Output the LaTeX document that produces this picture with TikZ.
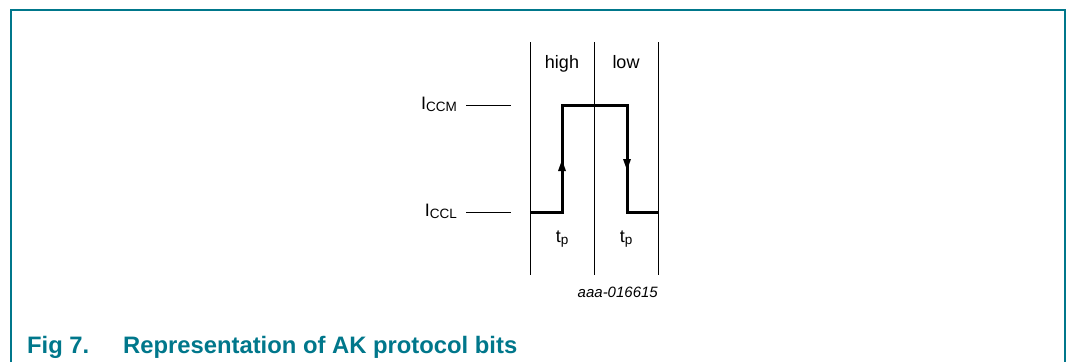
\documentclass[tikz,border=0pt]{standalone}
\usepackage{fontspec}
\setmainfont{Liberation Sans}
\definecolor{nxp}{HTML}{00778B}
\newcommand\lowsub[1]{\raisebox{-2pt}{\fontsize{13.5}{15}\selectfont #1}}
\begin{document}
\begin{tikzpicture}[x=1pt,y=-1pt,
  thin line/.style={line width=1pt,black},
  wave/.style={line width=3pt,black,line join=miter},
  lbl/.style={font=\fontsize{18}{21}\selectfont,inner sep=0pt},
  captxt/.style={font=\fontsize{23.8}{27}\selectfont\bfseries,text=nxp,inner sep=0pt,anchor=base west}]
\useasboundingbox (0,0) rectangle (1066,362);
\draw[nxp,line width=2pt] (10.5,362) -- (10.5,9.5) -- (1064.5,9.5) -- (1064.5,362);
% vertical grid
\coordinate (v1t) at (530,42); \coordinate (v1b) at (530,275);
\coordinate (v2t) at (594,42); \coordinate (v2b) at (594,275);
\coordinate (v3t) at (658,42); \coordinate (v3b) at (658,275);
\draw[thin line] (v1t) -- (v1b);
\draw[thin line] (v2t) -- (v2b);
\draw[thin line] (v3t) -- (v3b);
% level labels
\node[lbl,anchor=base east] (iccm) at (457,109) {I\lowsub{CCM}};
\node[lbl,anchor=base east] (iccl) at (457,216) {I\lowsub{CCL}};
\coordinate (m1) at (466,105); \coordinate (m2) at (511,105);
\coordinate (l1) at (466,212); \coordinate (l2) at (511,212);
\draw[thin line] (m1) -- (m2);
\draw[thin line] (l1) -- (l2);
% waveform
\coordinate (w0) at (530,212);
\coordinate (w1) at (562,212);
\coordinate (w2) at (562,105);
\coordinate (w3) at (627,105);
\coordinate (w4) at (627,212);
\coordinate (w5) at (658,212);
\draw[wave] (w0) -- (w1) -- (w2) -- (w3) -- (w4) -- (w5);
\fill (562,160) -- (558,171) -- (566,171) -- cycle;
\fill (627,170) -- (623,159) -- (631,159) -- cycle;
% texts
\node[lbl,anchor=base] (high) at (562,68) {high};
\node[lbl,anchor=base] (low) at (626,68) {low};
\node[lbl,anchor=base] (tp1) at (562,242) {t\lowsub{p}};
\node[lbl,anchor=base] (tp2) at (626,242) {t\lowsub{p}};
\node[font=\fontsize{15}{17}\selectfont\itshape,inner sep=0pt,anchor=base east] (id) at (658,297) {aaa-016615};
\node[captxt] (fig) at (27,353) {Fig 7.};
\node[captxt] (title) at (123,353) {Representation of AK protocol bits};
\end{tikzpicture}
\end{document}
